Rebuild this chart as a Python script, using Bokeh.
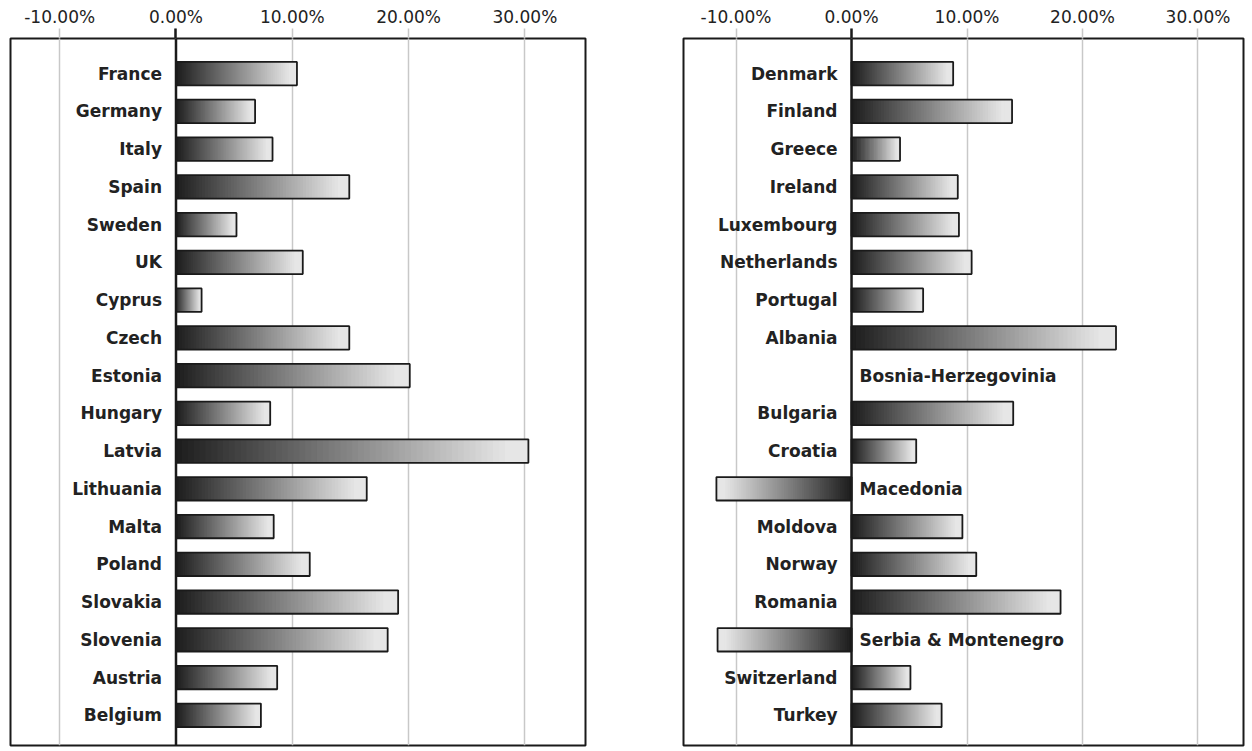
from bokeh.plotting import figure
from bokeh.layouts import row
from bokeh.models import ColumnDataSource, Range1d, FixedTicker, PrintfTickFormatter, Span
from bokeh.core.properties import value
from bokeh.embed import file_html
from bokeh.resources import INLINE

left_countries = ["France", "Germany", "Italy", "Spain", "Sweden", "UK", "Cyprus", "Czech",
                  "Estonia", "Hungary", "Latvia", "Lithuania", "Malta", "Poland", "Slovakia",
                  "Slovenia", "Austria", "Belgium"]
left_values = [10.4, 6.8, 8.3, 14.9, 5.2, 10.9, 2.2, 14.9,
               20.1, 8.1, 30.3, 16.4, 8.4, 11.5, 19.1,
               18.2, 8.7, 7.3]

right_countries = ["Denmark", "Finland", "Greece", "Ireland", "Luxembourg", "Netherlands",
                   "Portugal", "Albania", "Bosnia-Herzegovinia", "Bulgaria", "Croatia",
                   "Macedonia", "Moldova", "Norway", "Romania", "Serbia & Montenegro",
                   "Switzerland", "Turkey"]
right_values = [8.8, 13.9, 4.2, 9.2, 9.3, 10.4, 6.2, 22.9, 0.0, 14.0, 5.6,
                -11.7, 9.6, 10.8, 18.1, -11.6, 5.1, 7.8]

x_ticks = [-10, 0, 10, 20, 30]
grid_ticks = [-10, 10, 20, 30]

N_SLICES = 60
BAR_H = 0.62
FONT = "DejaVu Sans"


def grey(t):
    t = min(1.0, t / 0.95)
    g = int(round(30 + (230 - 30) * t))
    return "#%02x%02x%02x" % (g, g, g)


def make_panel(countries, values, x_start, x_end, width, bl, br):
    n = len(countries)
    p = figure(width=width, height=751,
               x_range=Range1d(x_start, x_end), y_range=Range1d(n - 1 + 0.8, -0.93),
               x_axis_location="above", y_axis_type=None,
               output_backend="svg", toolbar_location=None,
               min_border_left=bl, min_border_right=br,
               min_border_top=38, min_border_bottom=6)
    p.background_fill_color = "white"
    p.border_fill_color = "white"
    p.outline_line_color = "#1a1a1a"
    p.outline_line_width = 2

    ax = p.xaxis[0]
    ax.ticker = FixedTicker(ticks=x_ticks, minor_ticks=[0])
    ax.formatter = PrintfTickFormatter(format="%.2f%%")
    ax.axis_line_color = None
    ax.major_tick_line_color = "#c8c8c8"
    ax.major_tick_line_width = 1.5
    ax.major_tick_out = 10
    ax.major_tick_in = 0
    ax.minor_tick_line_color = "#1a1a1a"
    ax.minor_tick_line_width = 2.5
    ax.minor_tick_out = 10
    ax.minor_tick_in = 0
    ax.major_label_standoff = 2
    ax.major_label_text_font = FONT
    ax.major_label_text_font_size = "17px"
    ax.major_label_text_color = "#222222"

    p.xgrid.ticker = FixedTicker(ticks=grid_ticks)
    p.xgrid.grid_line_color = "#c8c8c8"
    p.xgrid.grid_line_width = 1.5

    # gradient slices (slightly overlapping to avoid seams)
    L, R, B, T, C = [], [], [], [], []
    for i, v in enumerate(values):
        if v == 0:
            continue
        for k in range(N_SLICES):
            L.append(v * k / N_SLICES)
            R.append(v * min(k + 1.8, N_SLICES) / N_SLICES)
            B.append(i + BAR_H / 2)
            T.append(i - BAR_H / 2)
            C.append(grey(k / (N_SLICES - 1)))
    p.quad(left=L, right=R, bottom=B, top=T, fill_color=C, line_color=None)

    idx = [i for i, v in enumerate(values) if v != 0]
    p.quad(left=[0] * len(idx), right=[values[i] for i in idx],
           bottom=[i + BAR_H / 2 for i in idx], top=[i - BAR_H / 2 for i in idx],
           fill_color=None, line_color="#1a1a1a", line_width=1.8)

    p.add_layout(Span(location=0, dimension="height", line_color="#1a1a1a", line_width=2.5))

    src = ColumnDataSource(dict(
        x=[0] * n, y=list(range(n)), text=countries,
        align=["right" if v > 0 else "left" for v in values],
        xo=[-14 if v > 0 else 8 for v in values],
    ))
    p.text(x="x", y="y", text="text", source=src, text_align="align", x_offset="xo",
           text_baseline="middle", text_font=value(FONT),
           text_font_style="bold", text_font_size="17px", text_color="#222222")
    return p


left = make_panel(left_countries, left_values, -14.23, 35.21, 634, 10, 49)
right = make_panel(right_countries, right_values, -14.55, 33.94, 618, 49, 9)

layout = row(left, right)
open("out.html", "w").write(file_html(layout, INLINE))
